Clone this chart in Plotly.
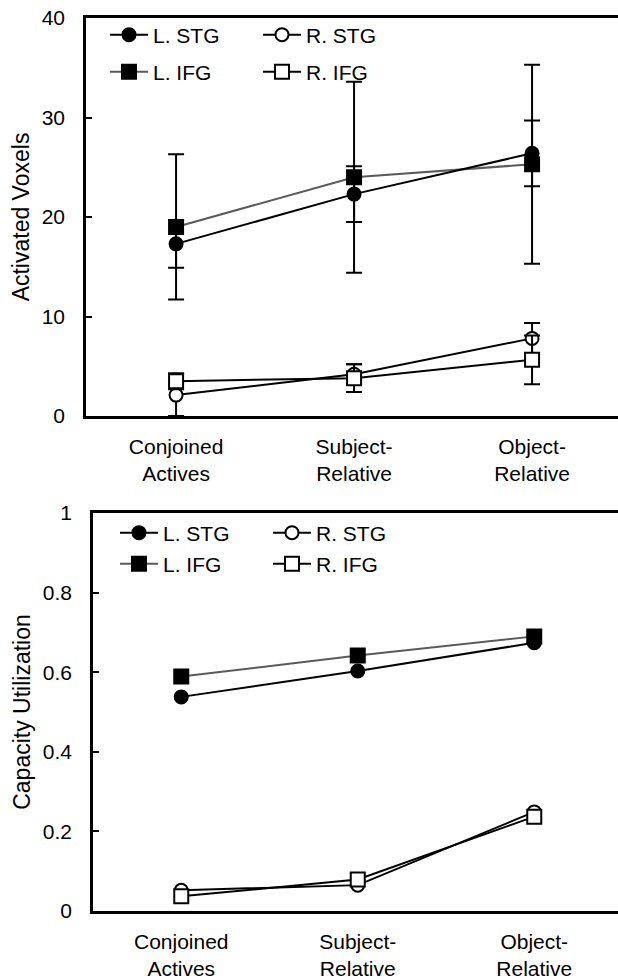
import plotly.graph_objects as go

categories = ["Conjoined<br>Actives", "Subject-<br>Relative", "Object-<br>Relative"]

series_names = ["L. STG", "R. STG", "L. IFG", "R. IFG"]

voxels_l_stg = [17.3, 22.3, 26.4]
voxels_l_stg_err = [2.4, 2.8, 3.3]
voxels_r_stg = [2.1, 4.2, 7.8]
voxels_r_stg_err = [2.1, 1.0, 1.55]
voxels_l_ifg = [19.0, 24.0, 25.3]
voxels_l_ifg_err = [7.3, 9.6, 10.0]
voxels_r_ifg = [3.5, 3.8, 5.65]
voxels_r_ifg_err = [0.8, 1.4, 2.45]

capacity_l_stg = [0.538, 0.603, 0.674]
capacity_r_stg = [0.052, 0.065, 0.249]
capacity_l_ifg = [0.589, 0.642, 0.69]
capacity_r_ifg = [0.037, 0.079, 0.237]

voxel_ticks = [0, 10, 20, 30, 40]
capacity_ticks = [0, 0.2, 0.4, 0.6, 0.8, 1]

FONT = "Liberation Sans, Arial, sans-serif"
VIEW_W = 618          # visible window width
W, H = 632, 980       # figure slightly wider: the right frame edge falls outside the window

styles = {
    "L. STG": dict(line_color="black", symbol="circle", fill="black", size=13),
    "R. STG": dict(line_color="black", symbol="circle", fill="white", size=13),
    "L. IFG": dict(line_color="#5a5a5a", symbol="square", fill="black", size=14),
    "R. IFG": dict(line_color="black", symbol="square", fill="white", size=14),
}

fig = go.Figure()

def add(name, y, err, xa, ya, legend):
    s = styles[name]
    kw = {}
    if err is not None:
        kw["error_y"] = dict(type="data", array=err, visible=True, color="black",
                             thickness=2, width=8)
    fig.add_trace(go.Scatter(
        x=categories, y=y, name=name, mode="lines+markers",
        line=dict(color=s["line_color"], width=2),
        marker=dict(symbol=s["symbol"], size=s["size"], color=s["fill"],
                    line=dict(color="black", width=2)),
        xaxis=xa, yaxis=ya, legend=legend, **kw))

# top panel
add("R. STG", voxels_r_stg, voxels_r_stg_err, "x", "y", "legend")
add("R. IFG", voxels_r_ifg, voxels_r_ifg_err, "x", "y", "legend2")
add("L. IFG", voxels_l_ifg, voxels_l_ifg_err, "x", "y", "legend2")
add("L. STG", voxels_l_stg, voxels_l_stg_err, "x", "y", "legend")
# bottom panel
add("R. STG", capacity_r_stg, None, "x2", "y2", "legend3")
add("R. IFG", capacity_r_ifg, None, "x2", "y2", "legend4")
add("L. IFG", capacity_l_ifg, None, "x2", "y2", "legend4")
add("L. STG", capacity_l_stg, None, "x2", "y2", "legend3")

xfont = dict(family=FONT, size=21, color="black")
yfont = dict(family=FONT, size=21, color="black")
tfont = dict(family=FONT, size=23, color="black")

def xaxis(left_px, anchor):
    # positions of categories in px: first at left+90, spacing 178 (top) / 176 (bottom)
    return dict(domain=[left_px / W, 1], anchor=anchor, type="category",
                showline=True, linecolor="black", linewidth=2.5,
                mirror=True, ticks="", showgrid=False, zeroline=False,
                tickfont=xfont, ticklabelstandoff=10, automargin=False)

def yaxis(top_px, bot_px, anchor, rng, ticks, title):
    return dict(domain=[1 - bot_px / H, 1 - top_px / H], anchor=anchor, range=rng,
                tickvals=ticks, showline=True, linecolor="black", linewidth=2.5,
                mirror=False, ticks="inside", ticklen=6, tickwidth=2, tickcolor="black",
                showgrid=False, zeroline=False, tickfont=yfont, ticklabelstandoff=14,
                title=dict(text=title, font=tfont, standoff=6),
                automargin=False)

def legend(xpx, ypx):
    return dict(orientation="h", x=xpx / W, y=1 - ypx / H, xanchor="left", yanchor="middle",
                entrywidth=100, bgcolor="rgba(0,0,0,0)", traceorder="reversed",
                font=dict(family=FONT, size=21, color="black"), itemwidth=38)

xa1 = xaxis(86, "y")
xa1["range"] = [-0.506, -0.506 + (W - 86) / 178.0]
xa2 = xaxis(93, "y2")
xa2["range"] = [-0.5, -0.5 + (W - 93) / 176.5]

fig.update_layout(
    width=W, height=H, margin=dict(l=0, r=0, t=0, b=0),
    paper_bgcolor="white", plot_bgcolor="white", template="none",
    font=dict(family=FONT, color="black"),
    xaxis=xa1,
    yaxis=yaxis(18, 416, "x", [0, 40], voxel_ticks, "Activated Voxels"),
    xaxis2=xa2,
    yaxis2=yaxis(513, 911, "x2", [0, 1], capacity_ticks, "Capacity Utilization"),
    legend=legend(105, 35),
    legend2=legend(105, 72),
    legend3=legend(115, 533),
    legend4=legend(115, 564),
)

fig.write_html("out.html", config={"displayModeBar": False},
               post_script="document.body.style.margin='0';document.body.style.overflow='hidden';")
